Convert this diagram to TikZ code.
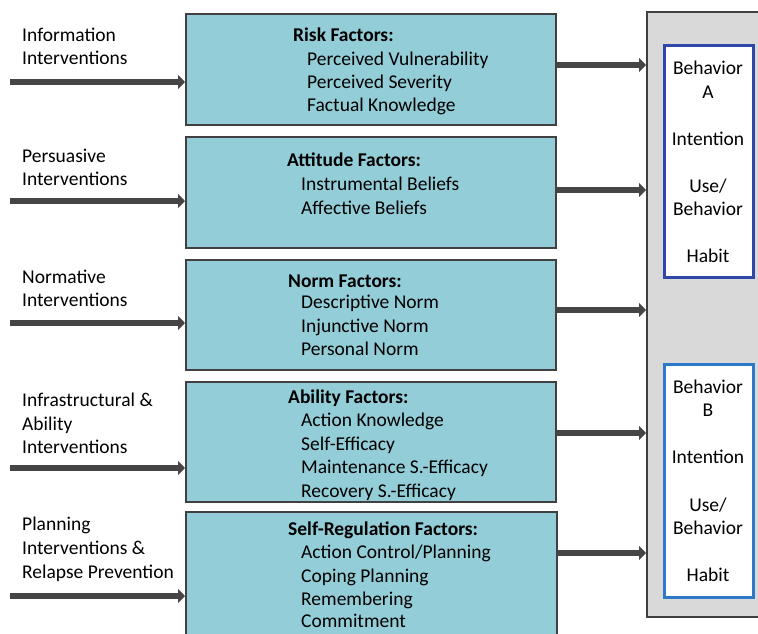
\documentclass[tikz,border=0pt]{standalone}
\usepackage{fontspec}
\setmainfont{Carlito}
\usetikzlibrary{arrows.meta}
\definecolor{boxfill}{HTML}{93CDD7}
\definecolor{edge}{HTML}{404040}
\definecolor{panel}{HTML}{D9D9D9}
\definecolor{blueA}{HTML}{2F47A8}
\definecolor{blueB}{HTML}{2E78C9}
\definecolor{arrowgray}{HTML}{454545}
\tikzset{
  factorbox/.style={draw=edge, line width=1.3pt, fill=boxfill},
  txt/.style={anchor=mid west, inner sep=0pt, yshift=-4.5pt, font=\fontsize{19.5}{22}\selectfont},
  title/.style={txt, font=\fontsize{19.5}{22}\selectfont\bfseries},
  ctxt/.style={anchor=mid, inner sep=0pt, yshift=-4.5pt, font=\fontsize{19.5}{22}\selectfont},
  blockarrow/.style={draw=arrowgray, line width=6pt, -{Triangle[width=14pt,length=7pt]}},
  behbox/.style={fill=white, line width=3pt},
}
\begin{document}
\begin{tikzpicture}[x=1pt,y=-1pt]
\useasboundingbox (0,0) rectangle (758,633);
\clip (0,0) rectangle (758,633);

% grey outcome panel on the right
\draw[draw=edge, line width=1.2pt, fill=panel] (647,12) rectangle (770,617);

% behaviour boxes
\draw[behbox, draw=blueA] (664,45) rectangle (753,277);
\draw[behbox, draw=blueB] (664,364) rectangle (753,597);

% factor boxes
\draw[factorbox] (186,14) rectangle (556,125);
\draw[factorbox] (186,137) rectangle (556,248);
\draw[factorbox] (186,260) rectangle (556,370);
\draw[factorbox] (186,382) rectangle (556,502);
\draw[factorbox] (186,512) rectangle (557,645);

% box texts
\node[title] (t1) at (293,35) {Risk Factors:};
\node[txt] at (307,59) {Perceived Vulnerability};
\node[txt] at (307,82) {Perceived Severity};
\node[txt] at (307,105) {Factual Knowledge};

\node[title] (t2) at (287,160) {Attitude Factors:};
\node[txt] at (301,184) {Instrumental Beliefs};
\node[txt] at (301,208) {Affective Beliefs};

\node[title] (t3) at (288,281) {Norm Factors:};
\node[txt] at (301,302) {Descriptive Norm};
\node[txt] at (301,326) {Injunctive Norm};
\node[txt] at (301,349) {Personal Norm};

\node[title] (t4) at (288,397) {Ability Factors:};
\node[txt] at (301,420) {Action Knowledge};
\node[txt] at (301,444) {Self-Efficacy};
\node[txt] at (301,467) {Maintenance S.-Efficacy};
\node[txt] at (301,491) {Recovery S.-Efficacy};

\node[title] (t5) at (288,529) {Self-Regulation Factors:};
\node[txt] at (301,552) {Action Control/Planning};
\node[txt] at (301,576) {Coping Planning};
\node[txt] at (301,599) {Remembering};
\node[txt] at (301,621) {Commitment};

% intervention labels
\node[txt] at (22,35) {Information};
\node[txt] at (22,58) {Interventions};
\node[txt] at (22,156) {Persuasive};
\node[txt] at (22,179) {Interventions};
\node[txt] at (22,277) {Normative};
\node[txt] at (22,300) {Interventions};
\node[txt] at (22,400) {Infrastructural \&};
\node[txt] at (22,424) {Ability};
\node[txt] at (22,447) {Interventions};
\node[txt] at (22,524) {Planning};
\node[txt] at (22,548) {Interventions \&};
\node[txt] at (22,572) {Relapse Prevention};

% behaviour texts
\node[ctxt] at (708,68) {Behavior};
\node[ctxt] at (708,92) {A};
\node[ctxt] at (708,139) {Intention};
\node[ctxt] at (708,186) {Use/};
\node[ctxt] at (708,209) {Behavior};
\node[ctxt] at (708,256) {Habit};

\node[ctxt] at (708,387) {Behavior};
\node[ctxt] at (708,410) {B};
\node[ctxt] at (708,457) {Intention};
\node[ctxt] at (708,505) {Use/};
\node[ctxt] at (708,528) {Behavior};
\node[ctxt] at (708,575) {Habit};

% incoming arrows
\foreach \y in {82,201,323,468,596}{
  \coordinate (in) at (10,\y);
  \coordinate (to) at (185,\y);
  \draw[blockarrow] (in) -- (to);
}
% outgoing arrows
\foreach \y/\x in {65/556,190/556,310/556,433/556,553/557}{
  \coordinate (from) at (\x,\y);
  \coordinate (dst) at (646,\y);
  \draw[blockarrow] (from) -- (dst);
}
\end{tikzpicture}
\end{document}
